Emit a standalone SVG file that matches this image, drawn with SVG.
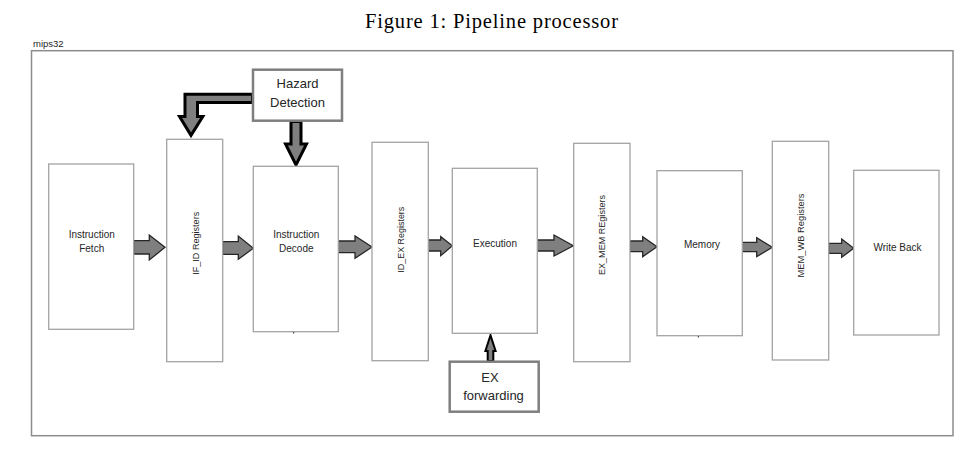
<svg xmlns="http://www.w3.org/2000/svg" width="967" height="449" viewBox="0 0 967 449">
<style>
.bx{fill:#fff;stroke:#a3a3a3;stroke-width:1.3}
.hz{fill:#fff;stroke:#7f7f7f;stroke-width:2.5}
.lb{font-family:"Liberation Sans",Arial,sans-serif;font-size:10px;fill:#262626;text-anchor:middle}
.vl{font-family:"Liberation Sans",Arial,sans-serif;font-size:9.5px;fill:#262626;text-anchor:middle;dominant-baseline:central}
.big{font-family:"Liberation Sans",Arial,sans-serif;font-size:13px;fill:#262626;text-anchor:middle}
.ar{fill:#7f7f7f;stroke:#262626;stroke-width:1.3;stroke-linejoin:miter}
.fat{fill:#7f7f7f;stroke:#000;stroke-width:3;stroke-linejoin:miter}
</style>
<rect width="967" height="449" fill="#fff"/>
<text x="491.5" y="27.5" text-anchor="middle" font-family="'Liberation Serif','Times New Roman',serif" font-size="20.5" fill="#000" textLength="253" lengthAdjust="spacing">Figure 1: Pipeline processor</text>
<text x="33" y="46.5" font-family="'Liberation Sans',Arial,sans-serif" font-size="9.5" fill="#262626">mips32</text>
<rect id="frame" x="31.5" y="50.7" width="921.5" height="385" fill="none" stroke="#8c8c8c" stroke-width="1.5"/>

<g id="connectors">
<polygon class="ar" points="133.7,240.7 149.3,240.7 149.3,235 165,247.3 149.3,260 149.3,254 133.7,254"/>
<polygon class="ar" points="222.7,241.7 238.3,241.7 238.3,236 253.3,248.3 238.3,259.3 238.3,254.3 222.7,254.3"/>
<polygon class="ar" points="338.3,241 355,241 355,236 372,247 355,258.3 355,252.7 338.3,252.7"/>
<polygon class="ar" points="428.3,240 440.7,240 440.7,236.7 452.3,245.7 440.7,255.7 440.7,251 428.3,251"/>
<polygon class="ar" points="537.3,240 554,240 554,235 573.3,245.7 554,256 554,251 537.3,251"/>
<polygon class="ar" points="630,241 642.7,241 642.7,236.7 657,246.7 642.7,256.7 642.7,251.7 630,251.7"/>
<polygon class="ar" points="742.3,242.3 756.7,242.3 756.7,237.7 772.3,247.3 756.7,256.7 756.7,251.7 742.3,251.7"/>
<polygon class="ar" points="828.7,243.3 841.7,243.3 841.7,239 853.7,248.3 841.7,257.3 841.7,253.3 828.7,253.3"/>
<polygon class="fat" points="252.5,94.2 185,94.2 185,116.5 179.5,116.5 191,135.3 202.8,116.5 197.5,116.5 197.5,102.5 252.5,102.5"/>
<polygon class="fat" points="291,121.5 301,121.5 301,144 306.5,144 296,165 285.5,144 291,144"/>
<polygon fill="#7f7f7f" stroke="#000" stroke-width="2" points="487.7,361 487.7,351 485.4,351 490.5,335.3 495.6,351 493.3,351 493.3,361"/>
</g>

<g id="instruction-fetch"><rect class="bx" x="48.7" y="164" width="85" height="165.3"/><text class="lb" x="91.7" y="238.3">Instruction</text><text class="lb" x="91.7" y="251.7">Fetch</text></g>
<g id="if-id-registers"><rect class="bx" x="166.7" y="139.3" width="56" height="222.4"/><text class="vl" transform="translate(195,243.3) rotate(-90)" textLength="63" lengthAdjust="spacingAndGlyphs">IF_ID Registers</text></g>
<g id="instruction-decode"><rect class="bx" x="253.3" y="166.3" width="85" height="165.4"/><text class="lb" x="296.3" y="238.3">Instruction</text><text class="lb" x="296.3" y="251.7">Decode</text><rect x="293" y="332" width="1.2" height="1.5" fill="#444"/></g>
<g id="id-ex-registers"><rect class="bx" x="372" y="142.3" width="56.3" height="218.4"/><text class="vl" transform="translate(400.5,239.7) rotate(-90)" textLength="66" lengthAdjust="spacingAndGlyphs">ID_EX Registers</text></g>
<g id="execution"><rect class="bx" x="452.3" y="168.3" width="85" height="165"/><text class="lb" x="495" y="246.7">Execution</text></g>
<g id="ex-mem-registers"><rect class="bx" x="573.7" y="143.3" width="56.3" height="218.4"/><text class="vl" transform="translate(601,235) rotate(-90)" textLength="80" lengthAdjust="spacingAndGlyphs">EX_MEM REgisters</text></g>
<g id="memory"><rect class="bx" x="657" y="170.7" width="85.3" height="165"/><text class="lb" x="702" y="247.7">Memory</text><rect x="697.8" y="336" width="1.2" height="1.5" fill="#444"/></g>
<g id="mem-wb-registers"><rect class="bx" x="772.3" y="141.3" width="56.4" height="218.7"/><text class="vl" transform="translate(800,235.5) rotate(-90)" textLength="84" lengthAdjust="spacingAndGlyphs">MEM_WB Registers</text></g>
<g id="write-back"><rect class="bx" x="853.7" y="170.3" width="85.3" height="164.7"/><text class="lb" x="897.5" y="251">Write Back</text></g>
<g id="hazard-detection"><rect class="hz" x="253" y="69.7" width="89" height="51"/><text class="big" x="297.5" y="88.3">Hazard</text><text class="big" x="297.5" y="106.7">Detection</text></g>
<g id="ex-forwarding"><rect class="hz" x="449.7" y="361.7" width="89" height="50"/><text class="big" x="490" y="381.7" font-size="14.5">EX</text><text class="big" x="493.5" y="400" font-size="14.5">forwarding</text></g>
</svg>
